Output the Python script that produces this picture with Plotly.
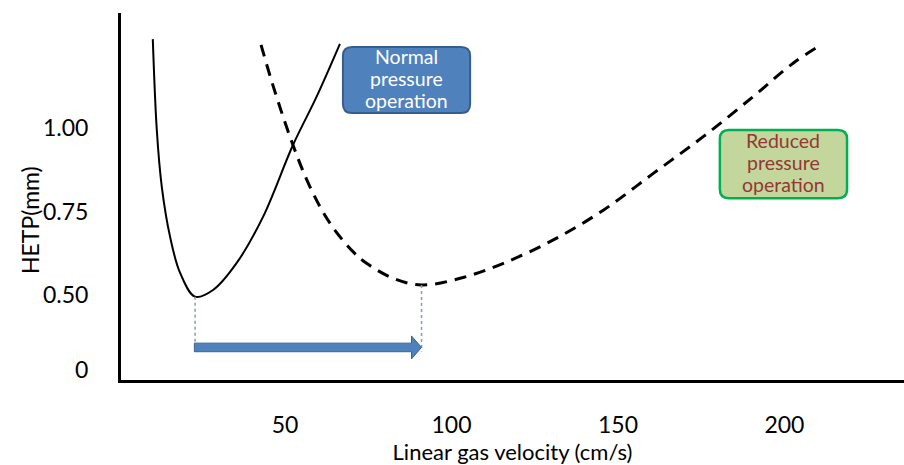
import numpy as np
import plotly.graph_objects as go

# HETP curves (van Deemter) for the two column operating modes
normal_velocity = [10.3, 11.5, 13.0, 15.5, 18.5, 23.0, 28.4, 35.5, 43.4, 52.4, 59.5, 66.5]
normal_hetp = [1.266, 0.994, 0.824, 0.674, 0.566, 0.495, 0.515, 0.596, 0.734, 0.949, 1.094, 1.252]

reduced_velocity = [42.8, 46.5, 52.4, 57.5, 63.5, 70.5, 74.5, 82.5, 91.0, 102.6,
                    115.6, 130.6, 145.6, 160.6, 175.6, 190.6, 202.6, 210.2]
reduced_hetp = [1.249, 1.124, 0.949, 0.824, 0.715, 0.629, 0.595, 0.550, 0.530, 0.550,
                0.595, 0.665, 0.754, 0.864, 0.974, 1.094, 1.194, 1.244]

x_tick_vals = [50, 100, 150, 200]
x_tick_text = ["50", "100", "150", "200"]
# the value axis is broken below 0.50; "0" marks the origin
y_tick_vals = [0.275, 0.50, 0.75, 1.00]
y_tick_text = ["0", "0.50", "0.75", "1.00"]

normal_label = ["Normal", "pressure", "operation"]
reduced_label = ["Reduced", "pressure", "operation"]

FONT = "Lato"
W, H = 904, 465
M = dict(l=121, r=0, t=13, b=85)
X_RANGE = [0.75, 235.9]
Y_RANGE = [0.2455, 1.3443]

# pixel -> data conversion factors for sizing decorations
px_x = (X_RANGE[1] - X_RANGE[0]) / (W - M["l"] - M["r"])
px_y = (Y_RANGE[1] - Y_RANGE[0]) / (H - M["t"] - M["b"])


def rounded_box(x0, x1, y0, y1, r_px=9):
    rx, ry = r_px * px_x, r_px * px_y
    return (f"M {x0 + rx},{y0} L {x1 - rx},{y0} Q {x1},{y0} {x1},{y0 + ry} "
            f"L {x1},{y1 - ry} Q {x1},{y1} {x1 - rx},{y1} "
            f"L {x0 + rx},{y1} Q {x0},{y1} {x0},{y1 - ry} "
            f"L {x0},{y0 + ry} Q {x0},{y0} {x0 + rx},{y0} Z")


fig = go.Figure()

fig.add_trace(go.Scatter(
    x=normal_velocity, y=normal_hetp, mode="lines",
    line=dict(color="black", width=2, shape="spline", smoothing=1.0),
    hoverinfo="skip", showlegend=False))

fig.add_trace(go.Scatter(
    x=reduced_velocity, y=reduced_hetp, mode="lines",
    line=dict(color="black", width=3, dash="12px,8px", shape="spline", smoothing=1.0),
    hoverinfo="skip", showlegend=False))

# minima of both curves
i_n = int(np.argmin(normal_hetp))
i_r = int(np.argmin(reduced_hetp))
xn, yn = normal_velocity[i_n], normal_hetp[i_n]
xr, yr = reduced_velocity[i_r], reduced_hetp[i_r]

arrow_y = 0.343
shapes = []
for xv, yv in [(xn, yn), (xr, yr)]:
    shapes.append(dict(type="line", xref="x", yref="y", x0=xv, x1=xv,
                       y0=yv, y1=arrow_y - 4 * px_y,
                       line=dict(color="#7F9CC4", width=1.5, dash="dot")))

# block arrow from the normal optimum to the reduced-pressure optimum
half_shaft = 4.3 * px_y
half_head = 11.5 * px_y
head_len = 10 * px_x
xs, xt = xn - 0.7 * px_x, xr
arrow_path = (f"M {xs},{arrow_y - half_shaft} L {xt - head_len},{arrow_y - half_shaft} "
              f"L {xt - head_len},{arrow_y - half_head} L {xt},{arrow_y} "
              f"L {xt - head_len},{arrow_y + half_head} L {xt - head_len},{arrow_y + half_shaft} "
              f"L {xs},{arrow_y + half_shaft} Z")
shapes.append(dict(type="path", xref="x", yref="y", path=arrow_path,
                   fillcolor="#4F81BD", line=dict(color="#3A6497", width=1)))

# label boxes (x0, x1, y0, y1) with their text colours
boxes = [
    ((67.4, 105.6, 1.045, 1.2425), "#4F81BD", "#385D8A", 2, normal_label, "white"),
    ((180.6, 218.8, 0.790, 0.994), "#C3D69B", "#00B050", 2.5, reduced_label, "#953735"),
]
annotations = []
for (x0, x1, y0, y1), fill, edge, lw, lines, tcol in boxes:
    shapes.append(dict(type="path", xref="x", yref="y",
                       path=rounded_box(x0, x1, y0, y1),
                       fillcolor=fill, line=dict(color=edge, width=lw)))
    cx, cy = (x0 + x1) / 2, (y0 + y1) / 2
    for k, line_text in enumerate(lines):
        annotations.append(dict(
            x=cx, y=cy + (1 - k) * 22 * px_y + 1.5 * px_y, xref="x", yref="y",
            showarrow=False, text=line_text, xanchor="center", yanchor="middle",
            borderpad=0, font=dict(family=FONT, size=19.5, color=tcol)))

annotations.append(dict(
    xref="paper", yref="paper", xanchor="center", yanchor="middle",
    x=(30 - M["l"]) / (W - M["l"] - M["r"]),
    y=1 - (220 - M["t"]) / (H - M["t"] - M["b"]),
    showarrow=False, text="HETP(mm)", textangle=-90,
    font=dict(family=FONT, size=23, color="black")))

fig.update_layout(
    width=W, height=H, margin=M,
    paper_bgcolor="white", plot_bgcolor="white",
    font=dict(family=FONT, size=23, color="black"),
    shapes=shapes, annotations=annotations,
    xaxis=dict(range=X_RANGE, showgrid=False, zeroline=False,
               showline=True, linecolor="black", linewidth=3,
               ticks="", tickvals=x_tick_vals, ticktext=x_tick_text,
               ticklabelstandoff=22, tickfont=dict(family=FONT, size=23),
               title=dict(text="Linear gas velocity (cm/s)",
                          font=dict(family=FONT, size=22), standoff=5)),
    yaxis=dict(range=Y_RANGE, showgrid=False, zeroline=False,
               showline=True, linecolor="black", linewidth=3,
               ticks="", tickvals=y_tick_vals, ticktext=y_tick_text,
               ticklabelstandoff=25, tickfont=dict(family=FONT, size=23)),
)

fig.write_html("out.html")
